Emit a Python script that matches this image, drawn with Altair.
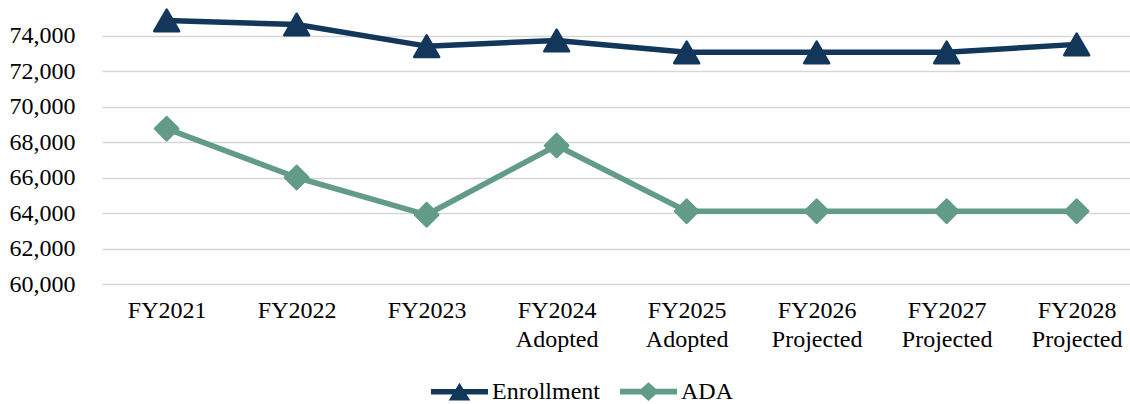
import altair as alt
import pandas as pd

# Fiscal years (a space splits a label onto two lines)
years = [
    "FY2021", "FY2022", "FY2023", "FY2024 Adopted", "FY2025 Adopted",
    "FY2026 Projected", "FY2027 Projected", "FY2028 Projected",
]
enrollment = [74850, 74620, 73400, 73720, 73050, 73050, 73050, 73500]
ada = [68750, 66000, 63900, 67800, 64100, 64100, 64100, 64100]

series_names = ["Enrollment", "ADA"]
series_colors = ["#12375A", "#639B89"]
marker_shapes = ["triangle-up", "diamond"]
y_ticks = [60000, 62000, 64000, 66000, 68000, 70000, 72000, 74000]

# Legend glyphs: a thick line segment with the series marker on top
legend_glyphs = [
    "M-1,-0.1 L1,-0.1 L1,0.1 L-1,0.1 Z M-0.38,0.31 L0,-0.32 L0.38,0.31 Z",
    "M-1,-0.1 L1,-0.1 L1,0.1 L-1,0.1 Z M-0.37,0 L0,-0.33 L0.37,0 L0,0.33 Z",
]

df = pd.DataFrame(
    {
        "year": years * 2,
        "series": ["Enrollment"] * len(years) + ["ADA"] * len(years),
        "value": enrollment + ada,
    }
)

FONT = "Liberation Serif"

x_enc = alt.X(
    "year:N",
    sort=years,
    title=None,
    scale=alt.Scale(type="point", padding=0.4538, align=0.548),
    axis=alt.Axis(
        labelAngle=0,
        labelExpr="split(datum.label, ' ')",
        labelLineHeight=29,
        labelPadding=14,
        labelFont=FONT,
        labelFontSize=24,
        labelColor="#000000",
        ticks=False,
        domain=False,
        grid=False,
    ),
)
y_enc = alt.Y(
    "value:Q",
    title=None,
    scale=alt.Scale(domain=[60000, 76000], nice=False, zero=False),
    axis=alt.Axis(
        values=y_ticks,
        format=",d",
        labelFont=FONT,
        labelFontSize=24,
        labelColor="#000000",
        labelPadding=27,
        ticks=False,
        domain=False,
        grid=True,
        gridColor="#D6D6D6",
        gridWidth=1.6,
    ),
)

base = alt.Chart(df).encode(x=x_enc, y=y_enc)

layers = []
for name, color, shape in zip(series_names, series_colors, marker_shapes):
    sub = base.transform_filter(alt.datum.series == name)
    layers.append(sub.mark_line(color=color, strokeWidth=5.5, strokeJoin="round"))
    layers.append(
        sub.mark_point(
            shape=shape,
            filled=True,
            color=color,
            stroke=color,
            strokeWidth=2.5,
            strokeJoin="round",
            opacity=1,
            size=620 if shape == "triangle-up" else 540,
        )
    )

legend_kw = dict(
    title=None,
    orient="none",
    legendX=328,
    legendY=362,
    direction="horizontal",
    labelFont=FONT,
    labelFontSize=24,
    labelColor="#000000",
    symbolSize=3249,
    symbolOpacity=1,
    labelOffset=3,
    columnPadding=17,
)

legend_layer = base.mark_point(opacity=0, filled=True).encode(
    color=alt.Color(
        "series:N",
        sort=series_names,
        scale=alt.Scale(domain=series_names, range=series_colors),
        legend=alt.Legend(**legend_kw),
    ),
    shape=alt.Shape(
        "series:N",
        sort=series_names,
        scale=alt.Scale(domain=series_names, range=legend_glyphs),
        legend=alt.Legend(**legend_kw),
    ),
)

chart = (
    alt.layer(*layers, legend_layer)
    .properties(
        width=1028,
        height=284,
        autosize=alt.AutoSizeParams(type="none"),
        padding={"left": 102, "right": 0, "top": 0, "bottom": 120},
        background="#FFFFFF",
    )
    .configure_view(stroke=None)
)

chart.save("out.html", embed_options={"renderer": "svg", "actions": False})
